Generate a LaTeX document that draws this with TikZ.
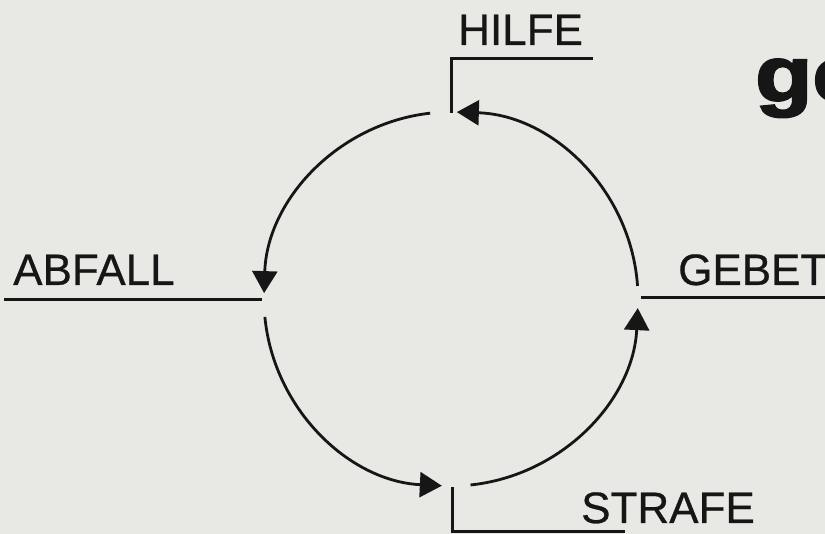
\documentclass[tikz,border=0pt]{standalone}
\usepackage{fontspec}
\setmainfont{Liberation Sans}[FakeBold=0.6]
\newfontfamily\heavyfont[FakeBold=2.5]{Liberation Sans Bold}
\usetikzlibrary{arrows.meta}
\definecolor{paper}{RGB}{232,232,229}
\definecolor{ink}{RGB}{22,22,22}
\begin{document}
\begin{tikzpicture}[x=1pt,y=1pt,
  cyc/.style={line width=2.8pt, draw=ink, -{Triangle[length=22pt,width=25pt]}},
  tag/.style={line width=3pt, draw=ink},
  lbl/.style={anchor=base west, inner sep=0pt, font=\fontsize{44}{44}\selectfont, text=ink}]
\fill[paper] (0,0) rectangle (825,534);
\useasboundingbox (0,0) rectangle (825,534);
\coordinate (c) at (451,235);
% junctions
\coordinate (top) at (451,421);
\coordinate (left) at (262,234);
\coordinate (right) at (641,236);
\coordinate (bot) at (452,47);
% label line ends
\coordinate (hilfeCorner) at (451,475);
\coordinate (hilfeEnd) at (593,475);
\coordinate (abfallEnd) at (4,234);
\coordinate (gebetEnd) at (825,236);
\coordinate (strafeCorner) at (452,2);
\coordinate (strafeEnd) at (625,2);
% labels
\node[lbl] (hilfe) at (458,489) {HILFE};
\node[lbl] (abfall) at (13,249) {ABFALL};
\node[lbl] (gebet) at (678,249) {GEBET};
\node[lbl] (strafe) at (581,11) {STRAFE};
\node[anchor=base west, inner sep=0pt, xscale=1.2, font=\heavyfont\fontsize{78}{78}\selectfont, text=ink] (ge) at (755,433) {ge};
% label lines
\draw[tag] (top) -- (hilfeCorner) -- (hilfeEnd);
\draw[tag] (abfallEnd) -- (left);
\draw[tag] (right) -- (gebetEnd);
\draw[tag] (bot) -- (strafeCorner) -- (strafeEnd);
% cycle arcs
\draw[cyc] ([shift={(4:187)}]c) arc[start angle=4, end angle=88.2, radius=187];
\draw[cyc] ([shift={(96.4:187)}]c) arc[start angle=96.4, end angle=178.2, radius=187];
\draw[cyc] ([shift={(185.5:187)}]c) arc[start angle=185.5, end angle=267.2, radius=187];
\draw[cyc] ([shift={(276:187)}]c) arc[start angle=276, end angle=357.2, radius=187];
\end{tikzpicture}
\end{document}
